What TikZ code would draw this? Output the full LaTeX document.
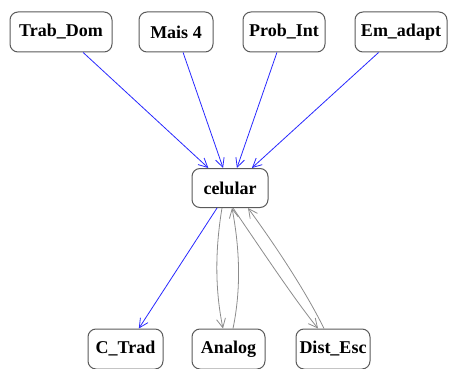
\documentclass[tikz,border=0pt]{standalone}
\usepackage{fontspec}
\setmainfont{Liberation Serif}
\usetikzlibrary{arrows.meta}
\definecolor{boxline}{RGB}{90,90,90}
\definecolor{edgeblue}{RGB}{40,40,255}
\definecolor{edgegray}{RGB}{140,140,140}
\tikzset{
  box/.style={draw=boxline, line width=1pt, rounded corners=8pt, fill=white,
    minimum height=40pt, inner sep=0pt, font=\fontsize{18}{20}\selectfont\bfseries},
  blueedge/.style={draw=edgeblue, line width=0.8pt, -{Straight Barb[length=9pt,width=9pt]}},
  grayedge/.style={draw=edgegray, line width=0.8pt, -{Straight Barb[length=9pt,width=9pt]}}
}
\begin{document}
\begin{tikzpicture}[x=1pt,y=-1pt]
\useasboundingbox (0,0) rectangle (450,369);
\node[box, minimum width=102pt] (trab) at (61,32) {Trab\_Dom};
\node[box, minimum width=74pt] (mais) at (176,32) {Mais 4};
\node[box, minimum width=82pt] (prob) at (284,32) {Prob\_Int};
\node[box, minimum width=92pt] (em) at (401,32) {Em\_adapt};
\node[box, minimum width=76pt, minimum height=39pt] (cel) at (230,188) {celular};
\node[box, minimum width=75pt] (ctrad) at (125.5,349) {C\_Trad};
\node[box, minimum width=73pt] (analog) at (228.5,349) {Analog};
\node[box, minimum width=74pt] (dist) at (333,349) {Dist\_Esc};

\draw[blueedge] (trab) -- (cel);
\draw[blueedge] (mais) -- (cel);
\draw[blueedge] (prob) -- (cel);
\draw[blueedge] (em) -- (cel);
\draw[blueedge] (cel) -- (ctrad);

\draw[grayedge] ([xshift=-8pt]cel.south) .. controls (215,250) and (215,290) .. ([xshift=-5.5pt]analog.north);
\draw[grayedge] ([xshift=4.5pt]analog.north) .. controls (241,290) and (240,250) .. ([xshift=2pt]cel.south);
\draw[grayedge] ([xshift=3pt]cel.south) .. controls (265,255) and (295,300) .. ([xshift=-15pt]dist.north);
\draw[grayedge] ([xshift=-9pt]dist.north) .. controls (305,290) and (275,245) .. ([xshift=18pt]cel.south);
\end{tikzpicture}
\end{document}
